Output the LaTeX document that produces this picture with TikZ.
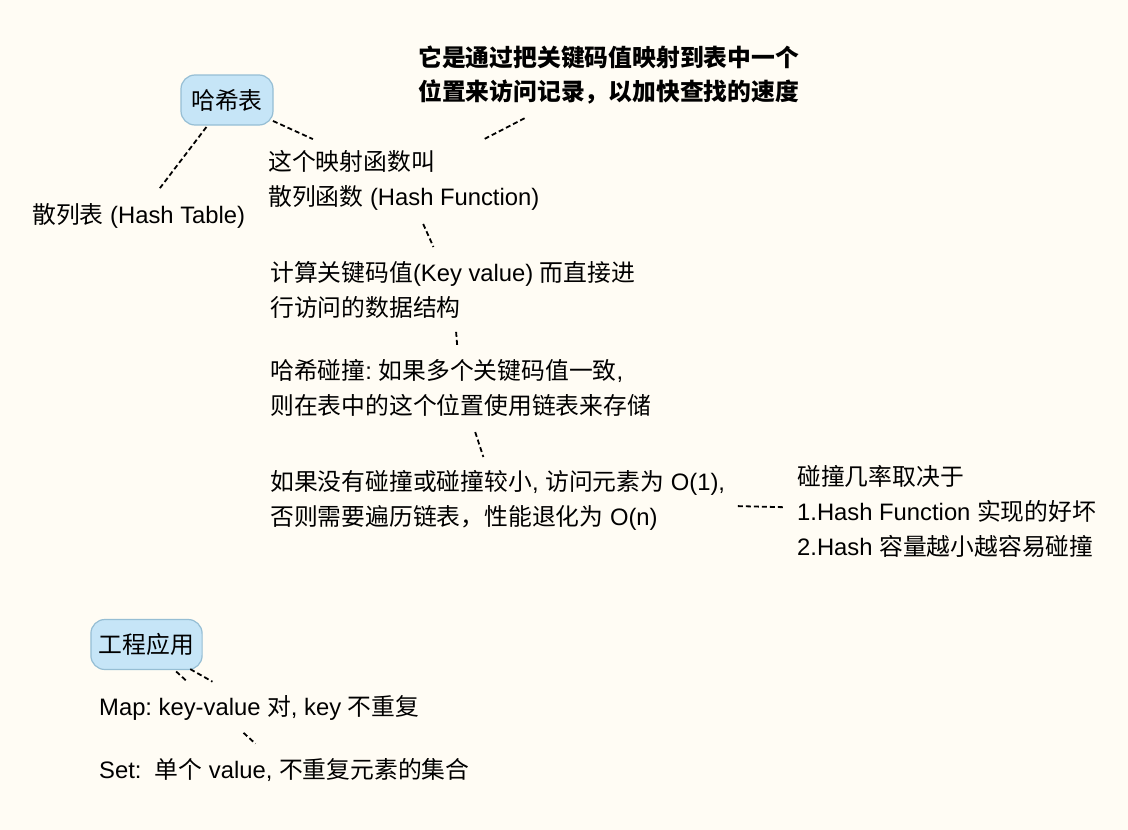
\documentclass[tikz,border=0pt]{standalone}
\definecolor{mapBg}{RGB}{255,252,244}
\definecolor{mapBubble}{RGB}{198,229,247}
\definecolor{mapEdge}{RGB}{150,190,212}
\usepackage{fontspec}
\setmainfont{Liberation Sans}
\newfontfamily\cjkfont{Noto Sans CJK SC}
\usetikzlibrary{positioning,calc}

\newXeTeXintercharclass\cjkclass
\newcount\cjkcode
\cjkcode="4E00
\loop
  \XeTeXcharclass\cjkcode=\cjkclass
  \advance\cjkcode by 1
\ifnum\cjkcode<"A000 \repeat
\XeTeXcharclass"FF0C=\cjkclass
\XeTeXcharclass"3001=\cjkclass
\XeTeXcharclass"3002=\cjkclass
\XeTeXinterchartoks 0 \cjkclass = {\cjkfont}
\XeTeXinterchartoks 4095 \cjkclass = {\cjkfont}
\XeTeXinterchartoks \cjkclass 0 = {\rmfamily}
\XeTeXinterchartoks \cjkclass 4095 = {\rmfamily}

\begin{document}
\frenchspacing
\XeTeXinterchartokenstate=1
\begin{tikzpicture}[x=1pt, y=-1pt,
  bubble/.style={draw=mapEdge, line width=1.2pt, fill=mapBubble, rounded corners=14pt,
                 minimum height=50pt, inner xsep=8pt, font=\fontsize{23.8}{35}\selectfont},
  txt/.style={anchor=west, inner sep=0pt, align=left, font=\fontsize{23.8}{35}\selectfont},
  link/.style={line width=1.8pt, dash pattern=on 5pt off 3pt}
]
  \fill[mapBg] (0,0) rectangle (1128,830);

  \node[bubble, minimum width=92pt] (hash) at (227,100) {哈希表};
  \node[txt] (sanlie) at (32,216) {散列表 (Hash Table)};
  \node[txt] (yingshe) at (268,180.5) {这个映射函数叫\\散列函数 (Hash Function)};
  \node[txt, font=\fontsize{23.8}{34}\selectfont\bfseries] (speed) at (418,75)
       {它是通过把关键码值映射到表中一个\\位置来访问记录，以加快查找的速度};
  \node[txt] (jisuan) at (270,290) {计算关键码值(Key value) 而直接进\\行访问的数据结构};
  \node[txt] (collide) at (270,387.5) {哈希碰撞: 如果多个关键码值一致,\\则在表中的这个位置使用链表来存储};
  \node[txt] (cost) at (270,500.5) {如果没有碰撞或碰撞较小, 访问元素为 O(1),\\否则需要遍历链表，性能退化为 O(n)};
  \node[txt] (odds) at (797,511) {碰撞几率取决于\\1.Hash Function 实现的好坏\\2.Hash 容量越小越容易碰撞};

  \node[bubble] (eng) at (146.5,644.5) {工程应用};
  \node[txt] (map) at (99,708) {Map: key-value 对, key 不重复};
  \node[txt, below=62pt of map.west, anchor=west] (set) {Set:~ 单个 value, 不重复元素的集合};

  \draw[link] ($(hash)!0.233!(sanlie)$) -- ($(hash)!0.76!(sanlie)$);
  \draw[link] ($(hash)!0.26!(yingshe)$) -- ($(hash)!0.486!(yingshe)$);
  \draw[link] ($(speed)!0.41!(yingshe)$) -- ($(speed)!0.605!(yingshe)$);
  \draw[link] ($(yingshe)!0.397!(jisuan)$) -- ($(yingshe)!0.607!(jisuan)$);
  \draw[link] ($(jisuan)!0.43!(collide)$) -- ($(jisuan)!0.564!(collide)$);
  \draw[link] ($(collide)!0.394!(cost)$) -- ($(collide)!0.615!(cost)$);
  \draw[link] ($(cost)!0.535!(odds)$) -- ($(cost)!0.64!(odds)$);
  \draw[link] ($(eng)!0.388!(map)$) -- ($(eng)!0.585!(map)$);
  \draw[link] ($(eng)!0.215!(set)$) -- ($(eng)!0.296!(set)$);
  \draw[link] ($(eng)!0.704!(set)$) -- ($(eng)!0.79!(set)$);
\end{tikzpicture}
\end{document}
